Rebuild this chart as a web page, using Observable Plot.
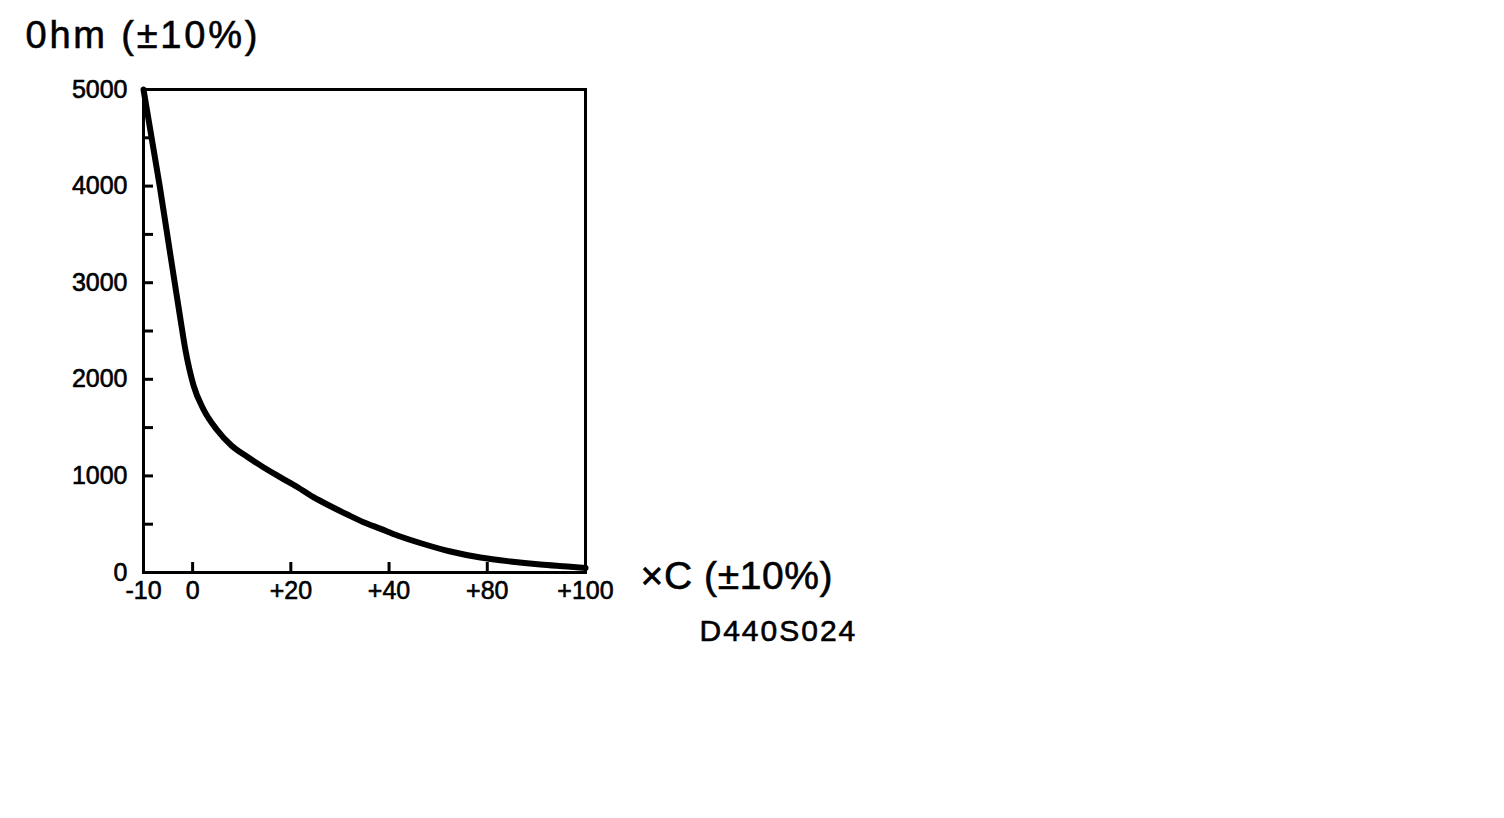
<!DOCTYPE html>
<html>
<head>
<meta charset="utf-8">
<script src="https://cdn.jsdelivr.net/npm/d3@7"></script>
<script src="https://cdn.jsdelivr.net/npm/@observablehq/plot@0.6"></script>
<style>
  html, body { margin: 0; padding: 0; background: #fff; }
  #chart svg { display: block; }
  #chart svg text { stroke: black; stroke-width: 0.6px; }
</style>
</head>
<body>
<div id="chart"></div>
<script>
// Temperature (°C) and resistance (Ohm)
const temps = [-10, -6.7, -4.5, -2.5, -1.45, 0.2, 2.2, 4.9, 7.9, 11.2, 14.4, 17.9, 21.4, 24.6, 28.1, 31.5, 34.8, 38.3, 43.4, 54, 65, 77.2, 84.7, 90.8, 96.3, 100];
const ohms  = [5000, 4000, 3280, 2630, 2300, 1935, 1690, 1480, 1315, 1195, 1090, 985, 883, 780, 686, 600, 521, 452, 383, 295, 217, 155, 114, 83, 62, 47];

// Axis tick values (the temperature axis is not linear: labels are spaced by rank)
const xTickTemps = [-10, 0, 20, 40, 80, 100];
const xTickLabels = ["-10", "0", "+20", "+40", "+80", "+100"];
const xTickSlots = [0, 1, 3, 5, 7, 9];
const yTicks = d3.range(0, 5001, 500);

const titleText = "0hm (\u00B110%)";
const xLabelText = "\u00D7C (\u00B110%)";
const codeText = "D440S024";

// piecewise mapping temperature -> axis slot
const slot = d3.scaleLinear().domain(xTickTemps).range(xTickSlots);
const data = temps.map((t, i) => ({t, pos: slot(t), r: ohms[i]}));
const labelBySlot = new Map(xTickSlots.map((s, i) => [s, xTickLabels[i]]));

const font = "'Liberation Sans', Arial, Helvetica, sans-serif";

const chart = Plot.plot({
  width: 1504,
  height: 818,
  marginLeft: 143,
  marginTop: 89,
  marginRight: 919,
  marginBottom: 246,
  style: {fontFamily: font, color: "black", background: "white"},
  x: {type: "linear", domain: [0, 9]},
  y: {domain: [0, 5000]},
  marks: [
    Plot.axisY({ticks: yTicks, tickFormat: d => d % 1000 === 0 ? String(d) : "", tickSize: -10, tickPadding: 26, strokeWidth: 3, fontSize: 25, label: null}),
    Plot.axisX({ticks: xTickSlots, tickFormat: s => labelBySlot.get(s), tickSize: -10, tickPadding: 19, strokeWidth: 3, fontSize: 25, label: null}),
    Plot.frame({stroke: "black", strokeWidth: 3}),
    Plot.line(data, {x: "pos", y: "r", stroke: "black", strokeWidth: 6, curve: "monotone-x"}),
    Plot.text([titleText], {frameAnchor: "top-left", dx: -118, dy: -42, textAnchor: "start", lineAnchor: "bottom", fontSize: 38, fill: "black"}),
    Plot.text([xLabelText], {frameAnchor: "bottom-right", dx: 55, dy: 16, textAnchor: "start", lineAnchor: "bottom", fontSize: 39, fill: "black"}),
    Plot.text([codeText], {frameAnchor: "bottom-right", dx: 114, dy: 68, textAnchor: "start", lineAnchor: "bottom", fontSize: 30, fill: "black"})
  ]
});
document.getElementById("chart").append(chart);

// letter spacing to match the wide scanned lettering
const textGroups = d3.select(chart).selectAll('g[aria-label="text"]').nodes();
const spacing = [2.8, 0.6, 2.0];
textGroups.forEach((g, i) => d3.select(g).selectAll("text").style("letter-spacing", spacing[i] + "px"));
</script>
</body>
</html>
